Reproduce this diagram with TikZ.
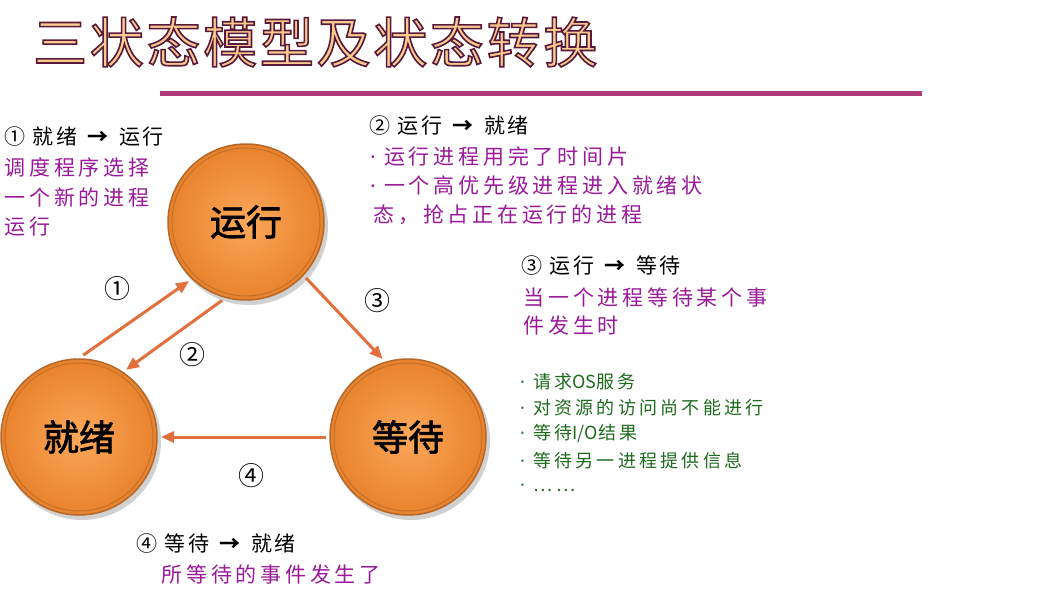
\documentclass[tikz,border=0pt]{standalone}
\usepackage{fontspec}
\usetikzlibrary{arrows.meta}
\newfontfamily\cjk{Noto Sans CJK SC}
\newfontfamily\cjkb[FakeBold=2]{Noto Sans CJK SC}
\newfontfamily\cjksp[LetterSpace=18]{Noto Sans CJK SC}
\newfontfamily\cjkh[LetterSpace=13]{Noto Sans CJK SC}
\newfontfamily\cjkt[LetterSpace=5]{Noto Sans CJK SC}
\newfontfamily\latf{DejaVu Sans}
\newcommand{\pdot}{{\latf\char"00B7}\kern8pt\relax}
\definecolor{arrc}{HTML}{E2703C}
\definecolor{purp}{HTML}{9A1A9A}
\definecolor{grn}{HTML}{1E6B1E}
\definecolor{barc}{HTML}{B03A7A}
\definecolor{titlefill}{HTML}{F9CB8F}
\definecolor{ballout}{HTML}{E8822C}
\definecolor{ballin}{HTML}{FBA85A}
\definecolor{rim}{HTML}{B5682A}
\newcommand{\outlinetext}[1]{\special{pdf:literal direct 2 Tr 1.6 w 0.35 0.1 0.23 RG}#1\special{pdf:literal direct 0 Tr}}
\begin{document}
\begin{tikzpicture}[x=1pt,y=-1pt,
  state/.style={circle,minimum size=156pt,inner sep=0pt,outer sep=4pt,
    shading=radial,inner color=ballin,outer color=ballout,draw=rim,line width=1.5pt,
    font=\cjkb\fontsize{36}{40}\selectfont},
  arr/.style={draw=arrc,line width=3pt,-{Triangle[length=13pt,width=11pt]}},
  num/.style={font=\cjk\fontsize{26}{28}\selectfont},
  head/.style={anchor=west,font=\cjkh\fontsize{21}{24}\selectfont,text=black},
  ptxt/.style={anchor=west,font=\cjksp\fontsize{21}{25}\selectfont,text=purp},
  gtxt/.style={anchor=west,font=\cjksp\fontsize{18}{20}\selectfont,text=grn}]
\useasboundingbox[fill=white] (0,0) rectangle (1061,597);
% title
\node[anchor=west,inner sep=0pt,font=\cjkt\fontsize{54}{60}\selectfont] (title) at (33,42)
  {\textcolor{titlefill}{\outlinetext{三状态模型及状态转换}}};
\fill[barc] (160,91) rectangle (922,96);
% shadows
\foreach \x/\y in {246/222,79/437,408/437}
  \fill[black,opacity=0.18] (\x+3,\y+4) circle (79);
% states
\node[state] (run) at (246,222) {运行};
\node[state] (ready) at (79,437) {就绪};
\node[state] (wait) at (408,437) {等待};
\foreach \n in {run,ready,wait}
  \draw[rim!70!ballout,line width=1pt] (\n.center) circle (74);
% arrows
\draw[arr] (ready.87) -- (run.226);
\draw[arr] (run.253) -- (ready.55);
\draw[arr] (run.317) -- (wait.108);
\draw[arr] (wait.180) -- (ready.0);
\node[num] (n1) at (117,289) {①};
\node[num] (n2) at (192,355) {②};
\node[num] (n3) at (377,301) {③};
\node[num] (n4) at (251,476) {④};
% text block 1
\node[head] (h1) at (1,137) {① 就绪 \textbf{→} 运行};
\node[ptxt] (p1a) at (1,167) {调度程序选择};
\node[ptxt] (p1b) at (1,197) {一个新的进程};
\node[ptxt] (p1c) at (1,227) {运行};
% text block 2
\node[head] (h2) at (366,126) {② 运行 \textbf{→} 就绪};
\node[ptxt] (p2a) at (366,156) {\pdot 运行进程用完了时间片};
\node[ptxt] (p2b) at (366,186) {\pdot 一个高优先级进程进入就绪状};
\node[ptxt] (p2c) at (370,215) {态，抢占正在运行的进程};
% text block 3
\node[head] (h3) at (518,266) {③ 运行 \textbf{→} 等待};
\node[ptxt] (p3a) at (520,297) {当一个进程等待某个事};
\node[ptxt] (p3b) at (520,326) {件发生时};
\node[gtxt] (g1) at (516,382) {\pdot 请求{\cjk OS}服务};
\node[gtxt] (g2) at (516,408) {\pdot 对资源的访问尚不能进行};
\node[gtxt] (g3) at (516,434) {\pdot 等待{\cjk I/O}结果};
\node[gtxt] (g4) at (516,461) {\pdot 等待另一进程提供信息};
\node[gtxt] (g5) at (516,488) {\pdot {\cjk …\ …}};
% text block 4
\node[head] (h4) at (133,544) {④ 等待 \textbf{→} 就绪};
\node[ptxt] (p4) at (158,574) {所等待的事件发生了};
\end{tikzpicture}
\end{document}
